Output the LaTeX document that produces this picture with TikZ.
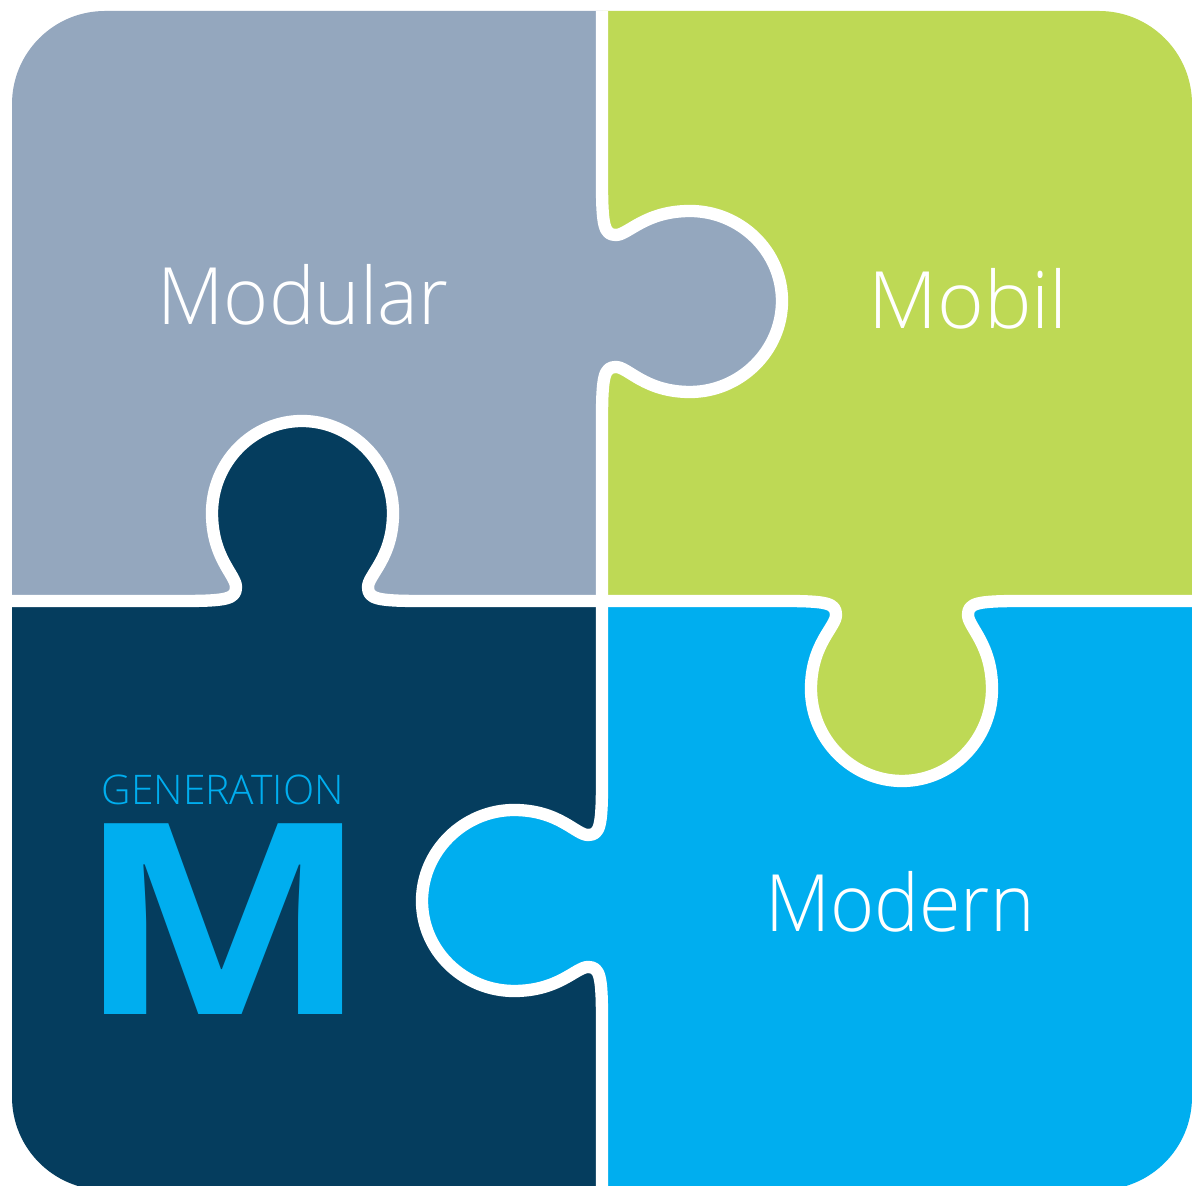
\documentclass[tikz,border=0pt]{standalone}
\usepackage{fontspec}
\newfontfamily\lightfont{Open Sans Light}
\newfontfamily\boldfont{Open Sans}[BoldFont={Open Sans Bold}]
\definecolor{modularblue}{HTML}{94A7BE}
\definecolor{mobilgreen}{HTML}{BED955}
\definecolor{modernblue}{HTML}{00AEEF}
\definecolor{darkblue}{HTML}{053D5E}
\tikzset{
    seam/.style={draw=white, line width=3.5pt, line cap=butt, line join=round},
    word/.style={text=white, font=\lightfont\fontsize{22.5}{27}\selectfont, inner sep=0pt},
}
\newcommand{\tabedge}{(602,601) -- (602,421)
    .. controls (602,376) and (604,367) .. (616,367)
    .. controls (628,367) and (645,392) .. (690,392)
    .. controls (740,392) and (782,351) .. (782,301)
    .. controls (782,251) and (740,211) .. (690,211)
    .. controls (645,211) and (628,235) .. (616,235)
    .. controls (604,235) and (602,226) .. (602,181) -- (602,0)}

\begin{document}
\begin{tikzpicture}[x=0.01cm, y=-0.01cm]
    \useasboundingbox (0,0) rectangle (1193,1186);
    \fill[white] (0,0) rectangle (1193,1186);

    \begin{scope}
        \clip[rounded corners=0.93cm] (12,11) rectangle (1192,1190);

        \fill[modularblue] (0,0) rectangle (602,601);
        \fill[mobilgreen] (602,0) rectangle (1193,601);
        \fill[modernblue] (602,601) rectangle (1193,1186);
        \fill[darkblue] (0,601) rectangle (602,1186);

        % the four tabs, same outline turned about the middle
        \foreach \ang/\col in {0/modularblue, 90/darkblue, 180/modernblue, 270/mobilgreen} {
            \begin{scope}[rotate around={\ang:(602,601)}]
                \fill[\col] \tabedge -- cycle;
            \end{scope}
        }
        \foreach \ang in {0, 90, 180, 270} {
            \begin{scope}[rotate around={\ang:(602,601)}]
                \draw[seam] \tabedge;
            \end{scope}
        }
    \end{scope}

    \node[word, xscale=0.973] (modular) at (303,295) {Modular};
    \node[word, xscale=1.01] (mobil) at (968,299) {Mobil};
    \node[word, xscale=0.953] (modern) at (900,902) {Modern};

    \node[anchor=base west, inner sep=0pt, text=modernblue, font=\lightfont\fontsize{11.6}{14}\selectfont] (generation) at (101,805) {GENERATION};
    \node[anchor=base, inner sep=0pt, xscale=1.167, text=modernblue, font=\boldfont\bfseries\fontsize{76}{80}\selectfont] (bigm) at (224,1015) {M};
\end{tikzpicture}
\end{document}
